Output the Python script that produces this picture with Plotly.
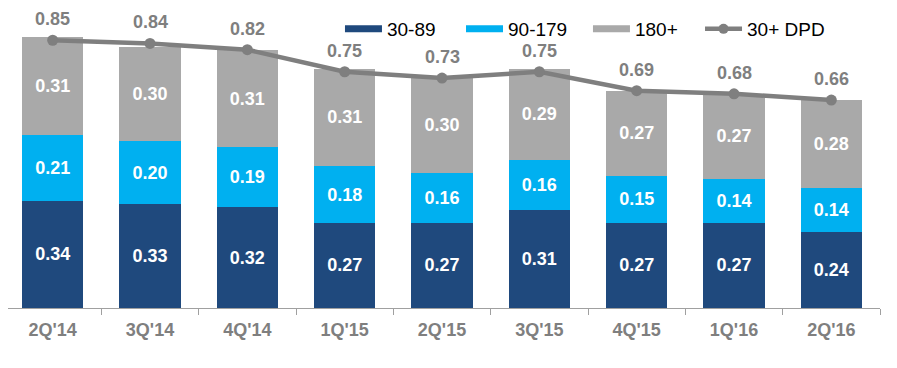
import plotly.graph_objects as go

categories = ["2Q'14", "3Q'14", "4Q'14", "1Q'15", "2Q'15", "3Q'15", "4Q'15", "1Q'16", "2Q'16"]
dpd_30_89 = [0.34, 0.33, 0.32, 0.27, 0.27, 0.31, 0.27, 0.27, 0.24]
dpd_90_179 = [0.21, 0.20, 0.19, 0.18, 0.16, 0.16, 0.15, 0.14, 0.14]
dpd_180 = [0.31, 0.30, 0.31, 0.31, 0.30, 0.29, 0.27, 0.27, 0.28]
dpd_30_total = [0.85, 0.84, 0.82, 0.75, 0.73, 0.75, 0.69, 0.68, 0.66]

C_DARK = "#1F497D"
C_LIGHT = "#00B0F0"
C_GRAY = "#A9A9A9"
C_LINE = "#7F7F7F"
FONT = "Liberation Sans, Arial, sans-serif"

fig = go.Figure()
for name, vals, col in [("30-89", dpd_30_89, C_DARK), ("90-179", dpd_90_179, C_LIGHT), ("180+", dpd_180, C_GRAY)]:
    fig.add_trace(go.Bar(
        x=categories, y=vals, name=name, marker=dict(color=col, line=dict(width=0)),
        text=[f"{v:.2f}" for v in vals], textposition="inside", insidetextanchor="middle",
        textfont=dict(color="white", size=18, family=FONT, weight="bold"),
        constraintext="none", showlegend=False, width=0.63, hoverinfo="skip"))

fig.add_trace(go.Scatter(
    x=categories, y=dpd_30_total, mode="lines+markers", name="30+ DPD",
    line=dict(color=C_LINE, width=4.5), marker=dict(size=11, color=C_LINE), showlegend=False))

# legend entries (wide swatches like the reference), one legend box each
legend_ids = ["legend", "legend2", "legend3", "legend4"]
for (name, col), lg in zip([("30-89", C_DARK), ("90-179", C_LIGHT), ("180+", C_GRAY)], legend_ids):
    fig.add_trace(go.Scatter(x=[None], y=[None], mode="lines", name=name,
                             line=dict(color=col, width=7), legend=lg))
fig.add_trace(go.Scatter(x=[None], y=[None], mode="lines+markers", name="30+ DPD",
                         line=dict(color=C_LINE, width=4.5), marker=dict(size=10, color=C_LINE),
                         legend="legend4"))

for c, v in zip(categories, dpd_30_total):
    fig.add_annotation(x=c, y=v, text=f"{v:.2f}", showarrow=False, yshift=21,
                       font=dict(color=C_LINE, size=18, family=FONT, weight="bold"))

leg_common = dict(orientation="h", y=1.0, xanchor="left", yanchor="top",
                  font=dict(size=19, color="black", family=FONT), bgcolor="rgba(0,0,0,0)",
                  itemwidth=37)
fig.update_layout(
    barmode="stack", width=897, height=368,
    margin=dict(l=0, r=25, t=2, b=68),
    paper_bgcolor="white", plot_bgcolor="white",
    font=dict(family=FONT),
    legend=dict(x=0.3807, **leg_common),
    legend2=dict(x=0.5195, **leg_common),
    legend3=dict(x=0.6651, **leg_common),
    legend4=dict(x=0.7936, **leg_common),
    xaxis=dict(type="category", range=[-0.459, 8.5], showline=True, linecolor="#A0A0A0", linewidth=1,
               ticks="outside", tickson="boundaries", ticklen=6, tickcolor="#A0A0A0",
               ticklabelstandoff=5,
               tickfont=dict(size=18, color=C_LINE, family=FONT, weight="bold"), showgrid=False),
    yaxis=dict(range=[0, 0.946], visible=False, showgrid=False),
)

fig.write_html("out.html")
